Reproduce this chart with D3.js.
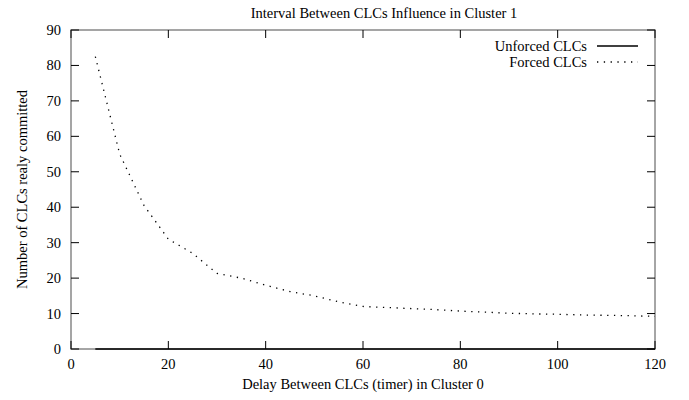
<!DOCTYPE html>
<html>
<head>
<meta charset="utf-8">
<script src="https://cdn.jsdelivr.net/npm/d3@7"></script>
<style>
body { margin: 0; background: #fff; }
text { font-family: "Liberation Serif", "Times New Roman", serif; fill: #000; }
</style>
</head>
<body>
<svg id="chart"></svg>
<script>
// timer values in cluster 0
var delays = [5, 10, 15, 20, 25, 30, 35, 40, 45, 50, 55, 60, 65, 70, 75, 80, 85, 90, 95, 100, 105, 110, 115, 120];
// number of CLCs really committed
var forced = [82.5, 55, 40.5, 31, 27, 21.3, 20, 18, 16.2, 15, 13.3, 12, 11.7, 11.4, 11.1, 10.7, 10.4, 10.1, 9.9, 9.8, 9.6, 9.5, 9.4, 9.2];
var unforced = [0, 0, 0, 0, 0, 0, 0, 0, 0, 0, 0, 0, 0, 0, 0, 0, 0, 0, 0, 0, 0, 0, 0, 0];
var xTicks = [0, 20, 40, 60, 80, 100, 120];
var yTicks = [0, 10, 20, 30, 40, 50, 60, 70, 80, 90];
var seriesNames = ["Unforced CLCs", "Forced CLCs"];

var screen = {width: 689, height: 400};
var margin = {left: 71, right: 34, top: 30, bottom: 51};
var w = screen.width - margin.left - margin.right;
var h = screen.height - margin.top - margin.bottom;

var svg = d3.select("#chart")
    .attr("width", screen.width)
    .attr("height", screen.height);

var x = d3.scaleLinear().domain([0, 120]).range([0, w]);
var y = d3.scaleLinear().domain([0, 90]).range([h, 0]);

var g = svg.append("g").attr("transform", "translate(" + margin.left + "," + margin.top + ")");

// border (gray like gnuplot)
g.append("rect")
    .attr("x", 0).attr("y", 0)
    .attr("width", w).attr("height", h)
    .attr("fill", "none")
    .attr("stroke", "#888")
    .attr("stroke-width", 1.5);

var tickLen = 8;
// inward ticks on all four sides
var tg = g.append("g").attr("stroke", "#000").attr("stroke-width", 1);
xTicks.forEach(function(t) {
    tg.append("line").attr("x1", x(t)).attr("x2", x(t)).attr("y1", h).attr("y2", h - tickLen);
    tg.append("line").attr("x1", x(t)).attr("x2", x(t)).attr("y1", 0).attr("y2", tickLen);
});
yTicks.forEach(function(t) {
    tg.append("line").attr("x1", 0).attr("x2", tickLen).attr("y1", y(t)).attr("y2", y(t));
    tg.append("line").attr("x1", w).attr("x2", w - tickLen).attr("y1", y(t)).attr("y2", y(t));
});

// tick labels
g.selectAll(".xl").data(xTicks).enter().append("text")
    .attr("x", function(d) { return x(d); })
    .attr("y", h + 20)
    .attr("text-anchor", "middle")
    .style("font-size", "14.5px")
    .text(function(d) { return d; });
g.selectAll(".yl").data(yTicks).enter().append("text")
    .attr("x", -10)
    .attr("y", function(d) { return y(d) + 5; })
    .attr("text-anchor", "end")
    .style("font-size", "14.5px")
    .text(function(d) { return d; });

// titles
svg.append("text")
    .attr("x", 384).attr("y", 18)
    .attr("text-anchor", "middle")
    .style("font-size", "14.5px")
    .text("Interval Between CLCs Influence in Cluster 1");
svg.append("text")
    .attr("x", margin.left + w / 2).attr("y", 389)
    .attr("text-anchor", "middle")
    .style("font-size", "14.5px")
    .text("Delay Between CLCs (timer) in Cluster 0");
svg.append("text")
    .attr("transform", "translate(27," + (margin.top + h / 2) + ") rotate(-90)")
    .attr("text-anchor", "middle")
    .style("font-size", "14.5px")
    .text("Number of CLCs realy committed");

// lines
var line = d3.line()
    .x(function(d) { return x(d[0]); })
    .y(function(d) { return y(d[1]); });

g.append("path")
    .datum(d3.zip(delays, unforced))
    .attr("d", line)
    .attr("fill", "none")
    .attr("stroke", "#000")
    .attr("stroke-width", 1.5);

g.append("path")
    .datum(d3.zip(delays, forced))
    .attr("d", line)
    .attr("fill", "none")
    .attr("stroke", "#000")
    .attr("stroke-width", 1.3)
    .attr("stroke-dasharray", "1.3,5.5");

// legend
var leg = svg.append("g");
seriesNames.forEach(function(name, i) {
    var ly = 46 + i * 16;
    leg.append("text")
        .attr("x", 587).attr("y", ly + 5)
        .attr("text-anchor", "end")
        .style("font-size", "14.5px")
        .text(name);
    leg.append("line")
        .attr("x1", 597).attr("x2", 638)
        .attr("y1", ly).attr("y2", ly)
        .attr("stroke", "#000")
        .attr("stroke-width", i == 0 ? 1.3 : 1.3)
        .attr("stroke-dasharray", i == 0 ? null : "1.3,5.5");
});
</script>
</body>
</html>
